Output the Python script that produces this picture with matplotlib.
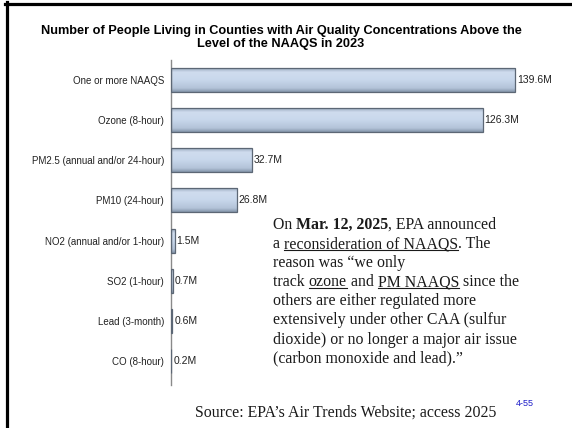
import matplotlib
matplotlib.use("Agg")
import matplotlib.pyplot as plt
import numpy as np
from matplotlib.lines import Line2D
from matplotlib.colors import LinearSegmentedColormap

categories = ["One or more NAAQS", "Ozone (8-hour)", "PM2.5 (annual and/or 24-hour)",
              "PM10 (24-hour)", "NO2 (annual and/or 1-hour)", "SO2 (1-hour)",
              "Lead (3-month)", "CO (8-hour)"]
values = [139.6, 126.3, 32.7, 26.8, 1.5, 0.7, 0.6, 0.2]
value_labels = ["139.6M", "126.3M", "32.7M", "26.8M", "1.5M", "0.7M", "0.6M", "0.2M"]

title = "Number of People Living in Counties with Air Quality Concentrations Above the\nLevel of the NAAQS in 2023"

# (text, style) b = bold, u = underline
note_lines = [
    [("On ", ""), ("Mar. 12, 2025", "b"), (", EPA announced", "")],
    [("a ", ""), ("reconsideration of NAAQS", "u"), (". The", "")],
    [("reason was \u201cwe only", "")],
    [("track ", ""), ("ozone", "u"), (" and ", ""), ("PM NAAQS", "u"), (" since the", "")],
    [("others are either regulated more", "")],
    [("extensively under other CAA (sulfur", "")],
    [("dioxide) or no longer a major air issue", "")],
    [("(carbon monoxide and lead).\u201d", "")],
]
source = "Source: EPA\u2019s Air Trends Website; access 2025"
page = "4-55"

W, H = 572, 428
fig = plt.figure(figsize=(W / 100, H / 100), dpi=100)
ax = fig.add_axes([171 / W, 43 / H, 370 / W, 325 / H])

y = np.arange(len(categories))
bars = ax.barh(y, values, height=0.6, color="#c7d6ea", edgecolor="#5c6775",
               linewidth=0.9, zorder=3)

# vertical shading inside each bar
cmap = LinearSegmentedColormap.from_list(
    "bar", [(0, "#8f9fb4"), (0.2, "#cfdcee"), (0.5, "#c9d8ec"), (0.85, "#b3c3d8"), (1, "#8596ab")])
grad = np.linspace(0, 1, 60).reshape(-1, 1)
for b in bars:
    im = ax.imshow(grad, cmap=cmap, aspect="auto", zorder=2,
                   extent=(b.get_x(), b.get_x() + b.get_width(),
                           b.get_y() + b.get_height(), b.get_y()))
    im.set_clip_path(b)
    b.set_facecolor("none")

for i, (v, lab) in enumerate(zip(values, value_labels)):
    ax.text(v + 0.7, i, lab, va="center", ha="left", fontsize=7.5,
            family="Liberation Sans", color="#222222")

ax.set_xlim(0, 150)
ax.set_ylim(7.6, -0.5)
ax.set_yticks(y)
ax.set_yticklabels(categories, fontsize=7, family="Liberation Sans", color="#222222")
ax.set_xticks([])
ax.tick_params(axis="y", length=0, pad=5)
for s in ["top", "right", "bottom"]:
    ax.spines[s].set_visible(False)
ax.spines["left"].set_color("#8a8a8a")
ax.spines["left"].set_linewidth(1)

fig.text(281 / W, 1 - 25 / H, title, ha="center", va="top", fontsize=9.2,
         weight="bold", family="Liberation Sans", linespacing=1.08)

# slide borders
fig.add_artist(Line2D([6.5 / W, 6.5 / W], [0, 1 - 2 / H], lw=2.3, color="black"))
fig.add_artist(Line2D([5 / W, 1], [1 - 3.5 / H, 1 - 3.5 / H], lw=2.3, color="black"))

renderer = fig.canvas.get_renderer()


def draw_line(x_px, base_px, segments, size=11.4):
    x = x_px
    for txt, style in segments:
        t = fig.text(x / W, 1 - base_px / H, txt, fontsize=size, family="Liberation Serif",
                     weight="bold" if "b" in style else "normal", va="baseline",
                     ha="left", color="#1a1a1a")
        bb = t.get_window_extent(renderer)
        if "u" in style:
            uy = 1 - (base_px + 2) / H
            fig.add_artist(Line2D([bb.x0 / W, bb.x1 / W], [uy, uy], lw=0.8, color="#1a1a1a"))
        x = bb.x1


for k, segs in enumerate(note_lines):
    draw_line(273, 229 + 19.1 * k, segs)

draw_line(195, 417, [(source, "")])
fig.text(516 / W, 1 - 403 / H, page, fontsize=6.5, family="Liberation Sans",
         color="#1c1cc8", va="center", ha="left")

fig.savefig("out.png", dpi=100)
